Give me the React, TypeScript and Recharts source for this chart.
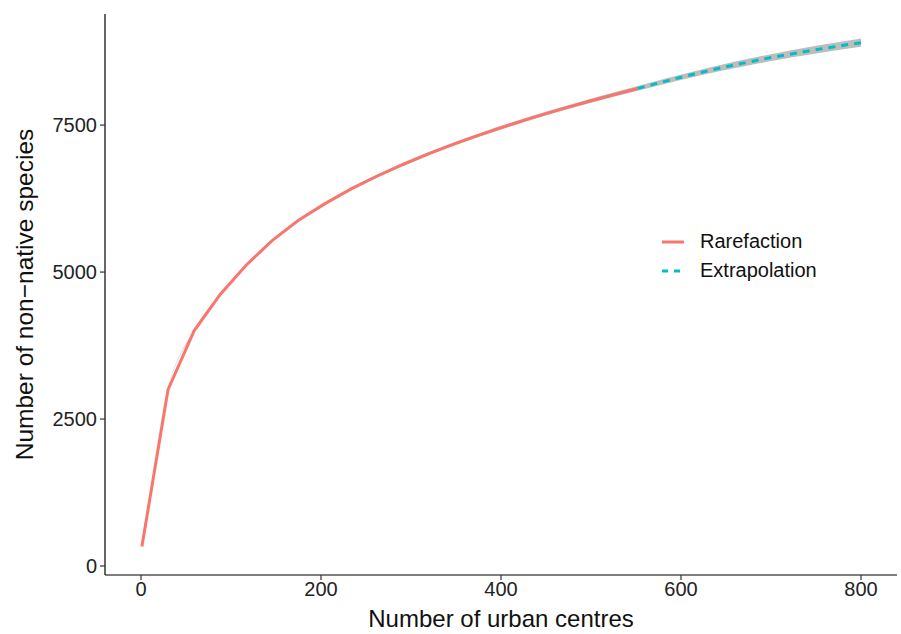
import React from "react";
import { ComposedChart, Line, Area, XAxis, YAxis } from "recharts";

// rarefaction (observed range)
const rareX = [1, 30, 59, 88, 117, 146, 175, 204, 233, 262, 291, 320, 349, 378, 407, 436, 465, 494, 523, 552];
const rareY = [330, 3000, 4000, 4620, 5120, 5540, 5880, 6160, 6410, 6630, 6830, 7015, 7185, 7343, 7491, 7631, 7763, 7889, 8009, 8124];
const rareLo = [325, 2990, 3988, 4605, 5103, 5522, 5860, 6139, 6388, 6606, 6805, 6989, 7157, 7314, 7461, 7599, 7730, 7854, 7972, 8084];
const rareHi = [335, 3010, 4012, 4635, 5137, 5558, 5900, 6181, 6432, 6654, 6855, 7041, 7213, 7372, 7521, 7663, 7796, 7924, 8046, 8164];

// extrapolation
const extX = [552, 583, 614, 645, 676, 707, 738, 769, 800];
const extY = [8124, 8248, 8366, 8476, 8576, 8668, 8752, 8830, 8902];
const extLo = [8084, 8204, 8318, 8424, 8520, 8608, 8688, 8763, 8832];
const extHi = [8164, 8292, 8414, 8528, 8632, 8728, 8816, 8897, 8972];

const xTicks = [0, 200, 400, 600, 800];
const yTicks = [0, 2500, 5000, 7500];

const RED = "#F8766D";
const CYAN = "#00BFC4";
const FONT = "'Liberation Sans', Arial, sans-serif";

type Row = { x: number; rare?: number; ext?: number; band: [number, number] };

const rows: Row[] = rareX.map((x, i) => ({
  x,
  rare: rareY[i],
  band: [rareLo[i], rareHi[i]],
}));
extX.forEach((x, i) => {
  const hit = rows.find((r) => r.x === x);
  if (hit) hit.ext = extY[i];
  else rows.push({ x, ext: extY[i], band: [extLo[i], extHi[i]] });
});

function KeyBox() {
  const item = (label: string, color: string, dash?: string) => (
    <div style={{ display: "flex", alignItems: "center", height: 29 }}>
      <svg width={42} height={10}>
        <line x1={4} y1={5} x2={26} y2={5} stroke={color} strokeWidth={3} strokeDasharray={dash} />
      </svg>
      <span style={{ fontSize: 20, color: "#111", lineHeight: "29px" }}>{label}</span>
    </div>
  );
  return (
    <div style={{ position: "absolute", left: 658, top: 227, fontFamily: FONT }}>
      {item("Rarefaction", RED)}
      {item("Extrapolation", CYAN, "6 6")}
    </div>
  );
}

export default function App() {
  return (
    <div style={{ position: "absolute", left: 0, top: 0, width: 901, height: 634, background: "#fff" }}>
      <ComposedChart
        width={901}
        height={634}
        data={rows}
        margin={{ top: 14, right: 4, bottom: 0, left: 0 }}
      >
        <XAxis
          dataKey="x"
          type="number"
          domain={[-40, 840]}
          ticks={xTicks}
          allowDataOverflow
          height={59}
          stroke="#000"
          strokeWidth={1.2}
          tickSize={5}
          tickMargin={2}
          tick={{ fill: "#222", fontSize: 20, fontFamily: FONT }}
          tickLine={{ stroke: "#333" }}
          label={{
            value: "Number of urban centres",
            position: "insideBottom",
            offset: 7,
            fill: "#111",
            fontSize: 24,
            fontFamily: FONT,
          }}
        />
        <YAxis
          type="number"
          domain={[-153, 9390]}
          ticks={yTicks}
          allowDataOverflow
          width={105}
          stroke="#000"
          strokeWidth={1.2}
          tickSize={5}
          tickMargin={3}
          tick={{ fill: "#222", fontSize: 20, fontFamily: FONT }}
          tickLine={{ stroke: "#333" }}
          label={{
            value: "Number of non\u2212native species",
            angle: -90,
            position: "insideLeft",
            offset: 24,
            style: { textAnchor: "middle" },
            fill: "#111",
            fontSize: 24.5,
            fontFamily: FONT,
          }}
        />
        <Area
          dataKey="band"
          type="monotone"
          stroke="none"
          fill="#bdbdbd"
          fillOpacity={1}
          isAnimationActive={false}
          legendType="none"
        />
        <Line
          dataKey="rare"
          type="linear"
          stroke={RED}
          strokeWidth={3}
          dot={false}
          isAnimationActive={false}
        />
        <Line
          dataKey="ext"
          type="monotone"
          stroke={CYAN}
          strokeWidth={3}
          strokeDasharray="7 6"
          dot={false}
          isAnimationActive={false}
        />
      </ComposedChart>
      <KeyBox />
    </div>
  );
}
